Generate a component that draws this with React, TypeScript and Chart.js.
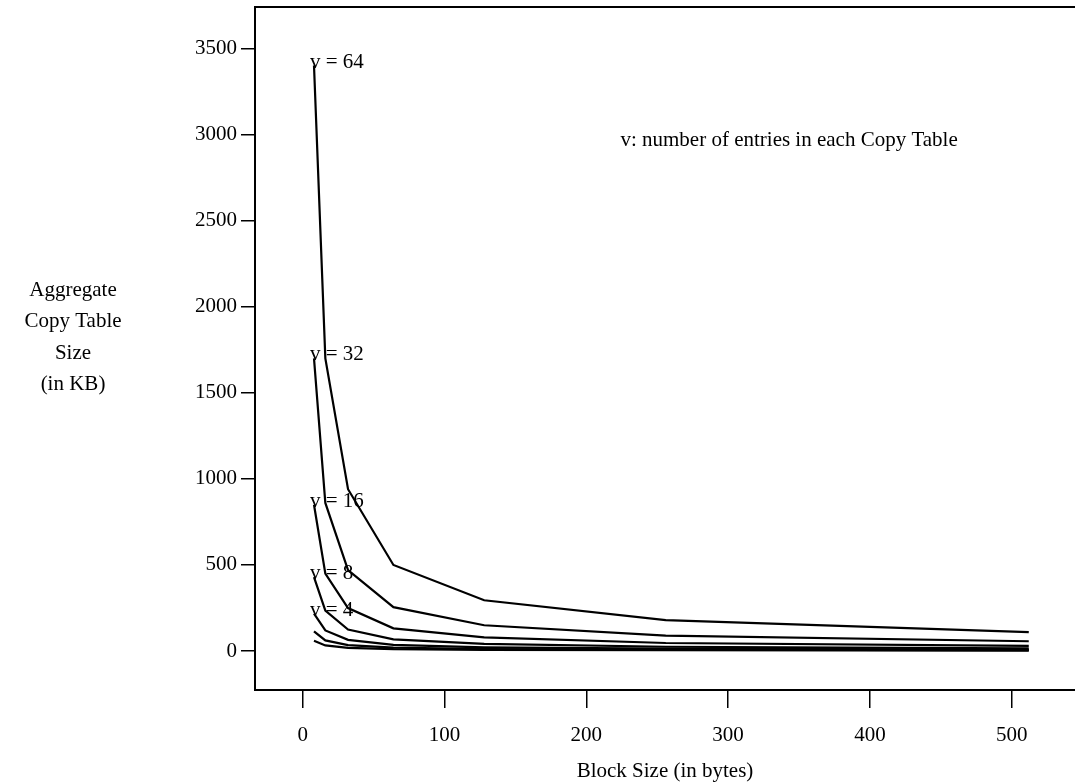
import React, { useEffect, useRef } from 'react';
import { Chart, registerables } from 'chart.js';

Chart.register(...registerables);

// ---- data ----
const blockSizes = [8, 16, 32, 64, 128, 256, 512];
const v64 = [3400, 1700, 940, 500, 295, 180, 110];
const v32 = [1700, 860, 470, 255, 150, 90, 57];
const v16 = [850, 450, 250, 132, 80, 47, 30];
const v8 = [430, 235, 125, 68, 42, 25, 16];
const v4 = [218, 120, 65, 36, 22, 14, 9];
const v2 = [115, 62, 35, 20, 12, 8, 5];
const v1 = [60, 33, 19, 11, 7, 5, 3];

const seriesValues = [v64, v32, v16, v8, v4, v2, v1];
const seriesNames = ['v = 64', 'v = 32', 'v = 16', 'v = 8', 'v = 4', 'v = 2', 'v = 1'];
const labelledCount = 5;

const xTicks = [0, 100, 200, 300, 400, 500];
const yTicks = [0, 500, 1000, 1500, 2000, 2500, 3000, 3500];
const xTitle = 'Block Size (in bytes)';
const yTitleLines = ['Aggregate', 'Copy Table', 'Size', '(in KB)'];
const noteText = 'v: number of entries in each Copy Table';

const FONT = '"Liberation Serif", "Times New Roman", serif';

const textPlugin = {
  id: 'textPlugin',
  afterDatasetsDraw(chart: any) {
    const { ctx, chartArea, scales } = chart;
    const xs = scales.x;
    const ys = scales.y;
    ctx.save();
    // top border
    ctx.strokeStyle = '#000';
    ctx.lineWidth = 2;
    ctx.beginPath();
    ctx.moveTo(chartArea.left - 1, chartArea.top);
    ctx.lineTo(chartArea.right, chartArea.top);
    ctx.stroke();

    ctx.fillStyle = '#000';
    // series labels
    ctx.font = `21px ${FONT}`;
    ctx.textAlign = 'left';
    ctx.textBaseline = 'alphabetic';
    for (let i = 0; i < labelledCount; i++) {
      const px = xs.getPixelForValue(blockSizes[0]);
      const py = ys.getPixelForValue(seriesValues[i][0]);
      ctx.fillText(seriesNames[i], px - 4, py + 2);
    }
    // note
    ctx.font = `21px ${FONT}`;
    ctx.textAlign = 'center';
    ctx.textBaseline = 'middle';
    ctx.fillText(noteText, xs.getPixelForValue(343), ys.getPixelForValue(2967));

    // y title
    ctx.font = `21px ${FONT}`;
    ctx.textAlign = 'center';
    yTitleLines.forEach((t, i) => {
      ctx.fillText(t, 73, 290 + i * 31.5);
    });
    // x title
    ctx.fillText(xTitle, (chartArea.left + chartArea.right) / 2, 771);
    ctx.restore();
  },
};

export default function App() {
  const ref = useRef<HTMLCanvasElement | null>(null);
  useEffect(() => {
    document.body.style.margin = '0';
    const canvas = ref.current!;
    const chart = new Chart(canvas, {
      type: 'line',
      data: {
        datasets: seriesValues.map((vals, i) => ({
          label: seriesNames[i],
          data: blockSizes.map((b, j) => ({ x: b, y: vals[j] })),
          borderColor: '#000',
          backgroundColor: '#000',
          borderWidth: 2.2,
          pointRadius: 0,
          tension: 0,
          fill: false,
        })),
      },
      options: {
        animation: false,
        responsive: false,
        maintainAspectRatio: false,
        events: [],
        layout: { padding: { top: 7, right: 0, left: 0, bottom: 0 } },
        plugins: { legend: { display: false }, tooltip: { enabled: false }, title: { display: false } },
        scales: {
          x: {
            type: 'linear',
            min: -33.6,
            max: 544.6,
            afterBuildTicks: (axis: any) => {
              axis.ticks = xTicks.map((v) => ({ value: v }));
            },
            afterFit: (axis: any) => {
              axis.height = 94;
              axis.paddingLeft = 0;
              axis.paddingRight = 0;
            },
            grid: { drawOnChartArea: false, drawTicks: true, tickLength: 18, color: '#000', lineWidth: 1.5 },
            border: { display: true, color: '#000', width: 2 },
            ticks: {
              color: '#000',
              font: { family: FONT, size: 21 },
              padding: 15,
              maxRotation: 0,
              autoSkip: false,
              callback: (v: any) => String(v),
            },
          },
          y: {
            type: 'linear',
            min: -226,
            max: 3740,
            afterBuildTicks: (axis: any) => {
              axis.ticks = yTicks.map((v) => ({ value: v }));
            },
            afterFit: (axis: any) => {
              axis.width = 255;
              axis.paddingTop = 0;
              axis.paddingBottom = 0;
            },
            grid: { drawOnChartArea: false, drawTicks: true, tickLength: 14, color: '#000', lineWidth: 1.5 },
            border: { display: true, color: '#000', width: 2 },
            ticks: {
              color: '#000',
              font: { family: FONT, size: 21 },
              padding: 4,
              autoSkip: false,
              callback: (v: any) => String(v),
            },
          },
        },
      },
      plugins: [textPlugin],
    });
    return () => chart.destroy();
  }, []);
  return (
    <div style={{ position: 'fixed', left: 0, top: 0, width: 1075, height: 784, background: '#fff' }}>
      <canvas ref={ref} width={1075} height={784} style={{ width: 1075, height: 784, display: 'block' }} />
    </div>
  );
}
